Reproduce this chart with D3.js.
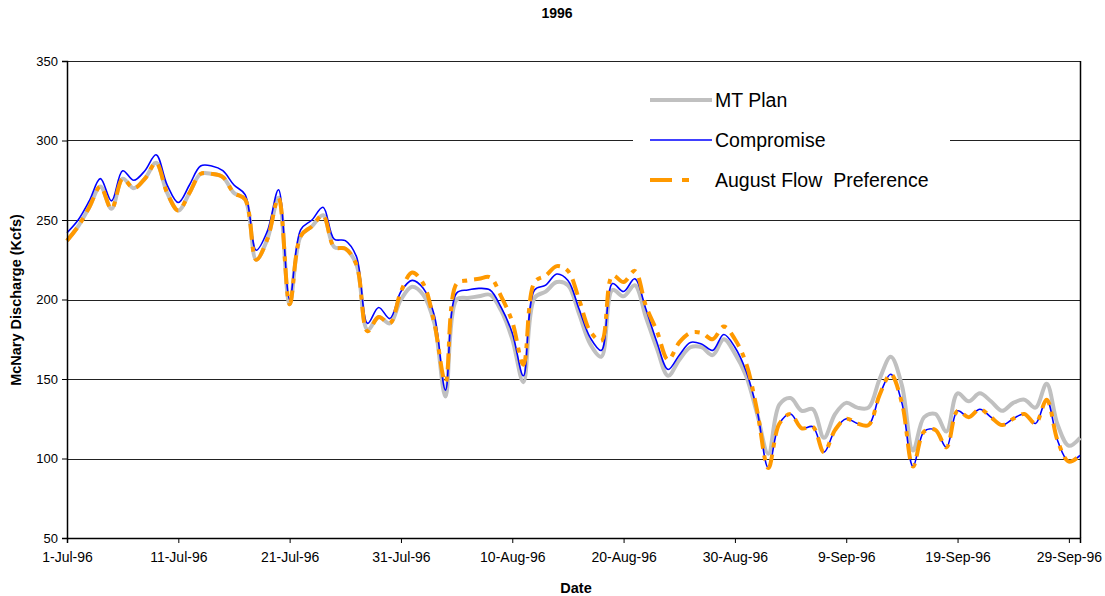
<!DOCTYPE html>
<html>
<head>
<meta charset="utf-8">
<script src="https://cdn.jsdelivr.net/npm/d3@7"></script>
<style>
  body { margin: 0; background: #fff; }
  svg { font-family: "Liberation Sans", Arial, sans-serif; }
</style>
</head>
<body>
<div id="chart"></div>
<script>
// daily values, 1-Jul-96 .. 30-Sep-96
const startDate = new Date(1996, 6, 1);
const endDate = new Date(1996, 8, 30);

const mtPlan = [
  237, 246, 258, 271, 257, 276, 270, 276, 286, 267,
  256, 267, 279, 279, 277, 267, 263, 225, 238, 264,
  197, 240, 246, 253, 233, 232, 222, 181, 189, 185,
  200, 208, 203, 185, 139, 200, 201, 202, 203, 193,
  175, 148, 201, 205, 211, 209, 191, 172, 164, 206,
  202, 209, 189, 169, 152, 162, 170, 170, 165, 175,
  166, 152, 128, 103, 134, 138, 130, 131, 113, 128,
  135, 132, 132, 150, 164, 146, 105, 126, 128, 117,
  141, 136, 141, 136, 130, 135, 137, 132, 147, 121,
  108, 113
];

const compromise = [
  242, 250, 262, 276, 262, 281, 275, 281, 291, 272,
  261, 272, 284, 284, 281, 272, 266, 231, 243, 269,
  200, 244, 250, 258, 238, 237, 227, 185, 195, 188,
  205, 212, 207, 190, 143, 204, 206, 207, 206, 195,
  179, 152, 206, 209, 216, 212, 194, 176, 168, 210,
  205, 213, 194, 173, 156, 165, 173, 172, 168, 178,
  170, 155, 130, 94, 122, 128, 119, 120, 104, 118,
  125, 122, 121, 140, 153, 135, 95, 117, 118, 107,
  130, 126, 131, 126, 121, 125, 128, 122, 137, 111,
  98, 102
];

const augustFlow = [
  237, 246, 258, 271, 257, 276, 270, 276, 286, 267,
  256, 267, 279, 279, 277, 267, 263, 225, 238, 264,
  197, 240, 246, 253, 233, 232, 222, 180, 189, 185,
  205, 217, 210, 185, 148, 210, 212, 213, 214, 202,
  186, 159, 211, 215, 221, 218, 200, 180, 174, 215,
  211, 218, 196, 180, 162, 173, 179, 179, 175, 183,
  175, 160, 130, 94, 122, 128, 119, 120, 104, 118,
  125, 122, 121, 140, 153, 135, 95, 117, 118, 107,
  130, 126, 131, 126, 121, 125, 128, 122, 137, 111,
  98, 102
];

const tickDates = ['1996-07-01', '1996-07-11', '1996-07-21', '1996-07-31', '1996-08-10',
  '1996-08-20', '1996-08-30', '1996-09-09', '1996-09-19', '1996-09-29'];
const yTicks = [50, 100, 150, 200, 250, 300, 350];

const series = [
  { name: 'MT Plan', values: mtPlan, color: '#c0c0c0', width: 4, dash: null },
  { name: 'Compromise', values: compromise, color: '#0000ff', width: 1.6, dash: null },
  { name: 'August Flow  Preference', values: augustFlow, color: '#ff9900', width: 4, dash: '16,7,5,7' }
];

const width = 1105, height = 596;
const margin = { top: 61, right: 25, bottom: 58, left: 67 };

const svg = d3.select('#chart').append('svg')
  .attr('width', width)
  .attr('height', height);

const x = d3.scaleTime()
  .domain([startDate, endDate])
  .range([margin.left, width - margin.right]);

const y = d3.scaleLinear()
  .domain([50, 350])
  .range([height - margin.bottom, margin.top]);

const dayDate = i => d3.timeDay.offset(startDate, i);

// grid lines
svg.append('g')
  .selectAll('line')
  .data(yTicks)
  .enter()
  .append('line')
  .attr('x1', margin.left)
  .attr('x2', width - margin.right)
  .attr('y1', d => Math.round(y(d)) + 0.5)
  .attr('y2', d => Math.round(y(d)) + 0.5)
  .attr('stroke', '#222')
  .attr('stroke-width', 1);

// right border
svg.append('line')
  .attr('x1', width - margin.right + 0.5)
  .attr('x2', width - margin.right + 0.5)
  .attr('y1', margin.top)
  .attr('y2', height - margin.bottom)
  .attr('stroke', '#000')
  .attr('stroke-width', 1.5);

// legend background hides the grid behind it
svg.append('rect')
  .attr('x', 633)
  .attr('y', 80)
  .attr('width', 317)
  .attr('height', 120)
  .attr('fill', '#fff');

// series
const line = d3.line()
  .x((d, i) => x(dayDate(i)))
  .y(d => y(d))
  .curve(d3.curveCatmullRom.alpha(0.5));

svg.append('g')
  .selectAll('path')
  .data(series)
  .enter()
  .append('path')
  .attr('d', d => line(d.values))
  .attr('fill', 'none')
  .attr('stroke', d => d.color)
  .attr('stroke-width', d => d.width)
  .attr('stroke-dasharray', d => d.dash)
  .attr('stroke-linejoin', 'round');

// axes
const xAxis = d3.axisBottom(x)
  .tickValues(tickDates.map(s => d3.timeParse('%Y-%m-%d')(s)))
  .tickFormat(d3.timeFormat('%-d-%b-%y'))
  .tickSize(5)
  .tickPadding(9);

const gx = svg.append('g')
  .attr('transform', `translate(0,${height - margin.bottom})`)
  .call(xAxis);

const yAxis = d3.axisLeft(y)
  .tickValues(yTicks)
  .tickSize(5)
  .tickPadding(4);

const gy = svg.append('g')
  .attr('transform', `translate(${margin.left},0)`)
  .call(yAxis);

[gx, gy].forEach(g => {
  g.select('.domain').attr('stroke', '#000').attr('stroke-width', 1.5);
  g.selectAll('.tick line').attr('stroke', '#000');
  g.selectAll('.tick text')
    .attr('fill', '#000')
    .style('font-size', '14px')
    .style('font-family', '"Liberation Sans", Arial, sans-serif');
});
gy.selectAll('.tick text').style('font-size', '13px');

// titles
svg.append('text')
  .attr('x', 557)
  .attr('y', 18)
  .attr('text-anchor', 'middle')
  .style('font-size', '14px')
  .style('font-weight', 'bold')
  .text('1996');

svg.append('text')
  .attr('x', 576)
  .attr('y', 593)
  .attr('text-anchor', 'middle')
  .style('font-size', '14.5px')
  .style('font-weight', 'bold')
  .text('Date');

svg.append('text')
  .attr('transform', 'translate(21,300) rotate(-90)')
  .attr('text-anchor', 'middle')
  .style('font-size', '14.5px')
  .style('font-weight', 'bold')
  .text('McNary Discharge (Kcfs)');

// legend
const legend = svg.append('g')
  .selectAll('g')
  .data(series)
  .enter()
  .append('g')
  .attr('transform', (d, i) => `translate(650,${100 + i * 40})`);

legend.append('line')
  .attr('x1', 0)
  .attr('x2', 62)
  .attr('stroke', d => d.color)
  .attr('stroke-width', d => d.width)
  .attr('stroke-dasharray', d => d.dash ? '22,10,7,30' : null);

legend.append('text')
  .attr('x', 65)
  .attr('y', 7)
  .style('font-size', '19.5px')
  .style('white-space', 'pre')
  .text(d => d.name);
</script>
</body>
</html>
